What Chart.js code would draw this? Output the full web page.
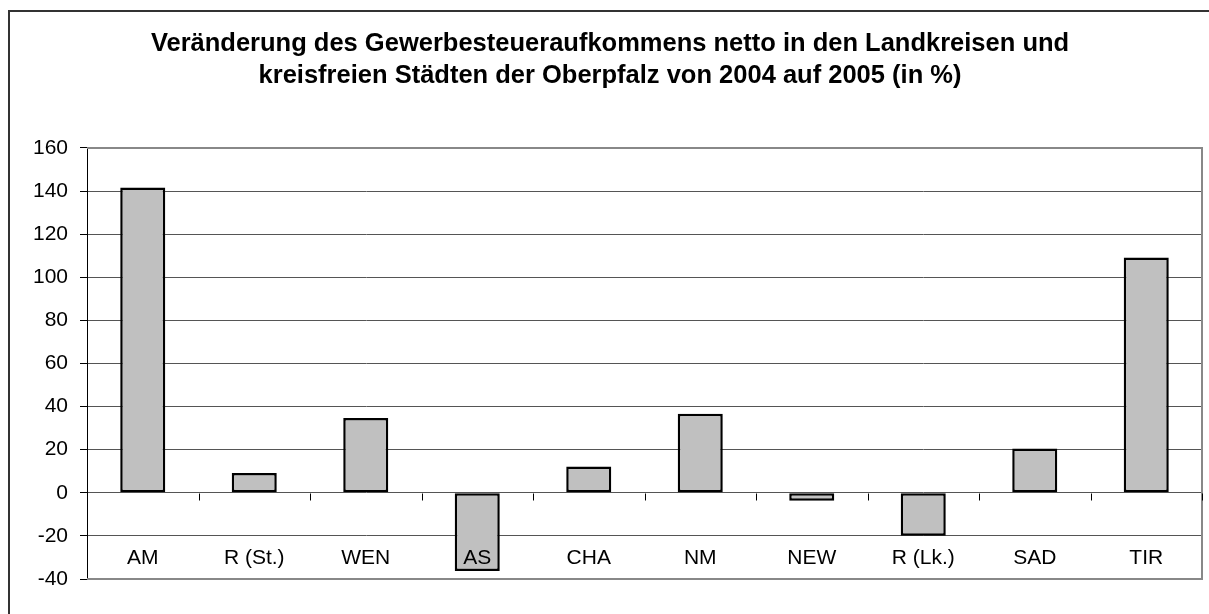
<!DOCTYPE html>
<html lang="de">
<head>
    <meta charset="UTF-8">
    <title>Gewerbesteueraufkommen Oberpfalz</title>
    <script src="https://cdn.jsdelivr.net/npm/chart.js"></script>
    <style>
        html, body {
            margin: 0;
            padding: 0;
            background: #fff;
        }
        #chart-box {
            width: 1209px;
            height: 614px;
            position: relative;
        }
    </style>
</head>
<body>
    <div id="chart-box">
        <canvas id="chart"></canvas>
    </div>

    <script>
        // Values
        const regions = ['AM', 'R (St.)', 'WEN', 'AS', 'CHA', 'NM', 'NEW', 'R (Lk.)', 'SAD', 'TIR'];
        const changePct = [141.7, 9.2, 34.7, -36.3, 12.2, 36.7, -3.7, -19.9, 20.5, 109.2];
        const yMin = -40;
        const yMax = 160;
        const yStep = 20;
        const titleLines = [
            'Veränderung des Gewerbesteueraufkommens netto in den Landkreisen und',
            'kreisfreien Städten der Oberpfalz von 2004 auf 2005 (in %)'
        ];

        const fontFamily = "'Liberation Sans', Arial, sans-serif";

        // Outer frame, plot border, category ticks on the zero line and the labels
        const excelLook = {
            id: 'excelLook',
            beforeDraw(chart) {
                const ctx = chart.ctx;
                ctx.save();
                ctx.fillStyle = '#fff';
                ctx.fillRect(0, 0, chart.width, chart.height);
                ctx.strokeStyle = '#333';
                ctx.lineWidth = 2;
                ctx.strokeRect(9, 11, chart.width + 20, chart.height + 20);
                ctx.restore();
            },
            afterDatasetsDraw(chart) {
                const ctx = chart.ctx;
                const area = chart.chartArea;
                const x = chart.scales.x;
                const y = chart.scales.y;
                ctx.save();

                // gray plot border (top, right, bottom)
                ctx.strokeStyle = '#888';
                ctx.lineWidth = 2;
                ctx.beginPath();
                ctx.moveTo(area.left, area.top);
                ctx.lineTo(area.right, area.top);
                ctx.lineTo(area.right, area.bottom);
                ctx.lineTo(area.left, area.bottom);
                ctx.stroke();

                // small tick marks under the zero line between the categories
                const zeroY = Math.round(y.getPixelForValue(0)) + 0.5;
                ctx.strokeStyle = '#000';
                ctx.lineWidth = 1;
                ctx.beginPath();
                for (let i = 0; i <= regions.length; i++) {
                    const px = Math.round(x.getPixelForValue(i - 0.5)) + 0.5;
                    ctx.moveTo(px, zeroY);
                    ctx.lineTo(px, zeroY + 7);
                }
                ctx.stroke();

                // category labels sit inside the plot, near the bottom
                ctx.fillStyle = '#000';
                ctx.font = '21px ' + fontFamily;
                ctx.textAlign = 'center';
                ctx.textBaseline = 'middle';
                const labelY = y.getPixelForValue(-30.5);
                regions.forEach((name, i) => {
                    ctx.fillText(name, x.getPixelForValue(i), labelY);
                });
                ctx.restore();
            }
        };

        new Chart(document.getElementById('chart'), {
            type: 'bar',
            data: {
                labels: regions,
                datasets: [{
                    data: changePct,
                    backgroundColor: '#c0c0c0',
                    borderColor: '#000',
                    borderWidth: 2.5,
                    borderSkipped: false,
                    categoryPercentage: 1.0,
                    barPercentage: 0.404
                }]
            },
            options: {
                responsive: true,
                maintainAspectRatio: false,
                animation: false,
                layout: {
                    padding: { left: 18, right: 7, top: 0, bottom: 35 }
                },
                plugins: {
                    legend: { display: false },
                    tooltip: { enabled: false },
                    title: {
                        display: true,
                        text: titleLines,
                        color: '#000',
                        font: { family: fontFamily, size: 25.5, weight: 'bold', lineHeight: 1.245 },
                        padding: { top: 28, bottom: 56.5 }
                    }
                },
                scales: {
                    x: {
                        display: false
                    },
                    y: {
                        min: yMin,
                        max: yMax,
                        afterFit(scale) {
                            scale.width = 69;
                        },
                        ticks: {
                            stepSize: yStep,
                            color: '#000',
                            padding: 12,
                            font: { family: fontFamily, size: 21 }
                        },
                        grid: {
                            color: '#555',
                            lineWidth: 1,
                            tickLength: 7,
                            tickColor: '#000'
                        },
                        border: {
                            display: true,
                            color: '#000',
                            width: 1
                        }
                    }
                }
            },
            plugins: [excelLook]
        });
    </script>
</body>
</html>
